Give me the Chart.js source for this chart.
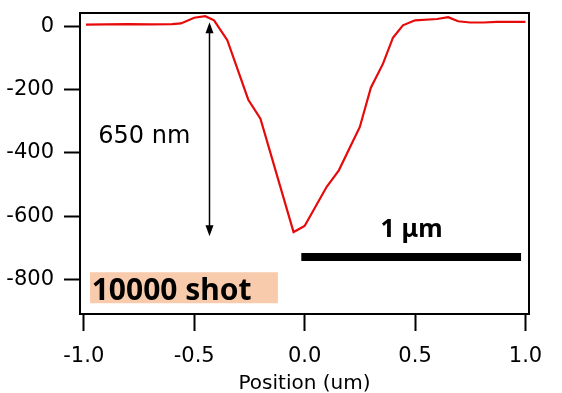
<!DOCTYPE html>
<html><head><meta charset="utf-8">
<script src="https://cdn.jsdelivr.net/npm/chart.js@4"></script>
<style>html,body{margin:0;padding:0;background:#fff}canvas{display:block}</style>
</head><body>
<canvas id="c" width="562" height="393"></canvas>
<script>
// ---- data ----
const positions = [-0.99, -0.9, -0.8, -0.7, -0.6, -0.56, -0.5, -0.45, -0.41, -0.35, -0.255, -0.2, -0.05, 0.0, 0.1, 0.155, 0.25, 0.30, 0.355, 0.40, 0.445, 0.5, 0.6, 0.65, 0.695, 0.75, 0.81, 0.87, 1.0];
const heights   = [5, 6, 7, 6, 7, 9, 27, 32, 19, -44, -232, -292, -650, -631, -507, -455, -318, -194, -118, -36, 3, 19, 23, 29, 16, 12, 12, 14, 14];
const xTicks = [-1.0, -0.5, 0.0, 0.5, 1.0];
const yTicks = [0, -200, -400, -600, -800];
const xTitle = 'Position (um)';
const depthLabel = '650 nm';
const shotLabel = '10000 shot';
const scaleBarLabel = '1 μm';

// ---- annotation placement (data units) ----
const annot = {
  arrowX: -0.433, arrowTop: 12.6, arrowBottom: -663,
  depthText: { x: -0.934, y: -370 },
  bar: { x0: -0.015, x1: 0.98, y: -729 },
  barText: { x: 0.344, y: -665 },
  shotBox: { x0: -0.9715, x1: -0.121, yTop: -777, yBottom: -875 },
  shotText: { x: -0.964, y: -865 }
};

const annotPlugin = {
  id: 'annot',
  afterDraw(chart) {
    const ctx = chart.ctx, xs = chart.scales.x, ys = chart.scales.y, ca = chart.chartArea;
    const X = v => xs.getPixelForValue(v), Y = v => ys.getPixelForValue(v);
    ctx.save();
    // frame
    ctx.strokeStyle = '#000'; ctx.lineWidth = 2;
    ctx.strokeRect(ca.left, ca.top, ca.right - ca.left, ca.bottom - ca.top);
    // shot box
    const sb = annot.shotBox;
    ctx.fillStyle = '#F8CBAD';
    ctx.fillRect(X(sb.x0), Y(sb.yTop), X(sb.x1) - X(sb.x0), Y(sb.yBottom) - Y(sb.yTop));
    ctx.fillStyle = '#000';
    ctx.font = 'bold 30px "Noto Sans"';
    ctx.textBaseline = 'alphabetic'; ctx.textAlign = 'left';
    ctx.fillText(shotLabel, X(annot.shotText.x), Y(annot.shotText.y));
    // scale bar
    ctx.lineWidth = 8; ctx.lineCap = 'butt';
    ctx.beginPath(); ctx.moveTo(X(annot.bar.x0), Y(annot.bar.y)); ctx.lineTo(X(annot.bar.x1), Y(annot.bar.y)); ctx.stroke();
    ctx.font = 'bold 25px "Noto Sans"';
    ctx.fillText(scaleBarLabel, X(annot.barText.x), Y(annot.barText.y));
    // depth label
    ctx.font = '24px "DejaVu Sans"';
    ctx.fillText(depthLabel, X(annot.depthText.x), Y(annot.depthText.y));
    // double arrow
    const ax = Math.round(X(annot.arrowX)) + 0.5, at = Y(annot.arrowTop), ab = Y(annot.arrowBottom);
    const hl = 11, hw = 4;
    ctx.lineWidth = 1.5;
    ctx.beginPath(); ctx.moveTo(ax, at + hl - 1); ctx.lineTo(ax, ab - hl + 1); ctx.stroke();
    ctx.beginPath(); ctx.moveTo(ax, at); ctx.lineTo(ax - hw, at + hl); ctx.lineTo(ax + hw, at + hl); ctx.closePath(); ctx.fill();
    ctx.beginPath(); ctx.moveTo(ax, ab); ctx.lineTo(ax - hw, ab - hl); ctx.lineTo(ax + hw, ab - hl); ctx.closePath(); ctx.fill();
    ctx.restore();
  }
};

new Chart(document.getElementById('c'), {
  type: 'line',
  data: {
    datasets: [{
      data: positions.map((p, i) => ({ x: p, y: heights[i] })),
      borderColor: 'rgb(230,10,10)', borderWidth: 2.2, pointRadius: 0, tension: 0, fill: false
    }]
  },
  options: {
    responsive: false, animation: false,
    layout: { padding: { top: 13, right: 33, left: 0, bottom: 0 } },
    plugins: { legend: { display: false }, tooltip: { enabled: false } },
    scales: {
      x: {
        type: 'linear', min: -1.017, max: 1.016,
        afterBuildTicks: s => { s.ticks = xTicks.map(v => ({ value: v })); },
        afterFit: s => { s.height = 79; s.paddingLeft = 0; s.paddingRight = 0; },
        grid: { drawOnChartArea: false, drawTicks: true, tickLength: 17, tickWidth: 2, tickColor: '#000' },
        border: { display: true, color: '#000', width: 2 },
        ticks: { color: '#000', font: { family: 'DejaVu Sans', size: 21 }, padding: 13, maxRotation: 0,
                 callback: v => Number(v).toFixed(1) },
        title: { display: true, text: xTitle, color: '#000', font: { family: 'DejaVu Sans', size: 20 }, padding: { top: 0, bottom: -3 } }
      },
      y: {
        type: 'linear', min: -909, max: 42,
        afterBuildTicks: s => { s.ticks = yTicks.map(v => ({ value: v })); },
        afterFit: s => { s.width = 80; s.paddingTop = 0; s.paddingBottom = 0; },
        grid: { drawOnChartArea: false, drawTicks: true, tickLength: 16, tickWidth: 2, tickColor: '#000' },
        border: { display: true, color: '#000', width: 2 },
        ticks: { color: '#000', font: { family: 'DejaVu Sans', size: 21 }, padding: 10,
                 callback: v => String(v) }
      }
    }
  },
  plugins: [annotPlugin]
});
</script>
</body></html>
